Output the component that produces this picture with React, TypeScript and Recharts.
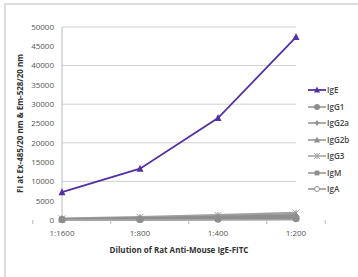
import { LineChart, Line, XAxis, YAxis, CartesianGrid } from "recharts";

const dilutions = ["1:1600", "1:800", "1:400", "1:200"];
const igE = [7200, 13300, 26400, 47400];
const igG1 = [100, 150, 250, 400];
const igG2a = [150, 300, 600, 900];
const igG2b = [200, 400, 800, 1200];
const igG3 = [300, 700, 1200, 1800];
const igM = [100, 200, 300, 500];
const igA = [50, 100, 200, 300];
const yTicks = [0, 5000, 10000, 15000, 20000, 25000, 30000, 35000, 40000, 45000, 50000];

const PURPLE = "#5430a3";
const GRAY = "#8e8e8e";
const FONT = "'Open Sans', sans-serif";

type Shape = "triangle" | "circle" | "diamond" | "star" | "square" | "open";

const series: Array<{ key: string; name: string; values: number[]; color: string; shape: Shape }> = [
  { key: "igE", name: "IgE", values: igE, color: PURPLE, shape: "triangle" },
  { key: "igG1", name: "IgG1", values: igG1, color: GRAY, shape: "circle" },
  { key: "igG2a", name: "IgG2a", values: igG2a, color: GRAY, shape: "diamond" },
  { key: "igG2b", name: "IgG2b", values: igG2b, color: GRAY, shape: "triangle" },
  { key: "igG3", name: "IgG3", values: igG3, color: "#a0a0a0", shape: "star" },
  { key: "igM", name: "IgM", values: igM, color: GRAY, shape: "square" },
  { key: "igA", name: "IgA", values: igA, color: GRAY, shape: "open" },
];

const data = dilutions.map((d, i) => {
  const row: Record<string, number | string> = { dilution: d };
  series.forEach((s) => (row[s.key] = s.values[i]));
  return row;
});

function Marker({ cx, cy, shape, color, r = 3.5 }: { cx: number; cy: number; shape: Shape; color: string; r?: number }) {
  if (shape === "triangle")
    return <polygon points={`${cx},${cy - r - 0.5} ${cx - r},${cy + r - 0.5} ${cx + r},${cy + r - 0.5}`} fill={color} />;
  if (shape === "circle") return <circle cx={cx} cy={cy} r={r} fill={color} />;
  if (shape === "diamond")
    return <polygon points={`${cx},${cy - r} ${cx + r * 0.7},${cy} ${cx},${cy + r} ${cx - r * 0.7},${cy}`} fill={color} />;
  if (shape === "square") return <rect x={cx - r * 0.8} y={cy - r * 0.8} width={r * 1.6} height={r * 1.6} fill={color} />;
  if (shape === "open") return <circle cx={cx} cy={cy} r={r - 0.5} fill="#fff" stroke={color} strokeWidth={1} />;
  return (
    <g stroke={color} strokeWidth={1}>
      <line x1={cx - r} y1={cy - r} x2={cx + r} y2={cy + r} />
      <line x1={cx - r} y1={cy + r} x2={cx + r} y2={cy - r} />
      <line x1={cx} y1={cy - r} x2={cx} y2={cy + r} />
    </g>
  );
}

function XTick(props: any) {
  const { x, y, payload, index } = props;
  const half = 29.25;
  return (
    <g>
      <line x1={x - half} y1={y - 8} x2={x - half} y2={y - 4} stroke="#bbb" />
      {index === dilutions.length - 1 && <line x1={x + half} y1={y - 8} x2={x + half} y2={y - 4} stroke="#bbb" />}
      <text x={x} y={y + 8} textAnchor="middle" fontSize={8} fill="#555" fontFamily={FONT}>
        {payload.value}
      </text>
    </g>
  );
}

export default function App() {
  return (
    <div style={{ position: "absolute", left: 0, top: 0, width: 358, height: 277, background: "#fff", overflow: "hidden" }}>
      <div style={{ position: "absolute", left: 4, top: 3, right: 0, bottom: 0, borderTop: "2px solid #ddd", borderLeft: "2px solid #ddd" }} />
      <LineChart width={358} height={277} data={data} margin={{ top: 27, right: 62, bottom: 27, left: 2 }}>
        <CartesianGrid vertical={false} stroke="#d0d0d0" />
        <XAxis
          dataKey="dilution"
          height={30}
          stroke="#bbb"
          tickLine={false}
          tick={<XTick />}
          label={{ value: "Dilution of Rat Anti-Mouse IgE-FITC", position: "insideBottom", offset: -3, fontSize: 8, fontWeight: 700, fill: "#333", fontFamily: FONT }}
        />
        <YAxis
          width={60}
          domain={[0, 50000]}
          ticks={yTicks}
          stroke="#bbb"
          tickLine={false}
          tick={{ fontSize: 8, fill: "#555", fontFamily: FONT }}
          label={{ value: "FI at Ex-485/20 nm & Em-528/20 nm", angle: -90, position: "insideLeft", offset: 18, fontSize: 8, fontWeight: 700, fill: "#333", fontFamily: FONT, style: { textAnchor: "middle" } }}
        />
        {series
          .slice()
          .reverse()
          .map((s) => (
            <Line
              key={s.key}
              type="linear"
              dataKey={s.key}
              stroke={s.color}
              strokeWidth={s.key === "igE" ? 1.8 : 2.5}
              isAnimationActive={false}
              dot={(p: any) => <Marker key={`${s.key}-${p.index}`} cx={p.cx} cy={p.cy} shape={s.shape} color={s.color} r={s.key === "igE" ? 3.5 : 3.5} />}
            />
          ))}
      </LineChart>
      <div style={{ position: "absolute", left: 307, top: 82 }}>
        {series.map((s) => (
          <div key={s.key} style={{ display: "flex", alignItems: "center", height: 16.5 }}>
            <svg width={20} height={10}>
              <line x1={1} y1={5} x2={19} y2={5} stroke={s.color} strokeWidth={s.key === "igE" ? 1.8 : 1.5} />
              <Marker cx={10} cy={5} shape={s.shape} color={s.color} r={3} />
            </svg>
            <span style={{ fontFamily: FONT, fontSize: 8, fontWeight: 600, color: "#444", lineHeight: "10px" }}>{s.name}</span>
          </div>
        ))}
      </div>
    </div>
  );
}
